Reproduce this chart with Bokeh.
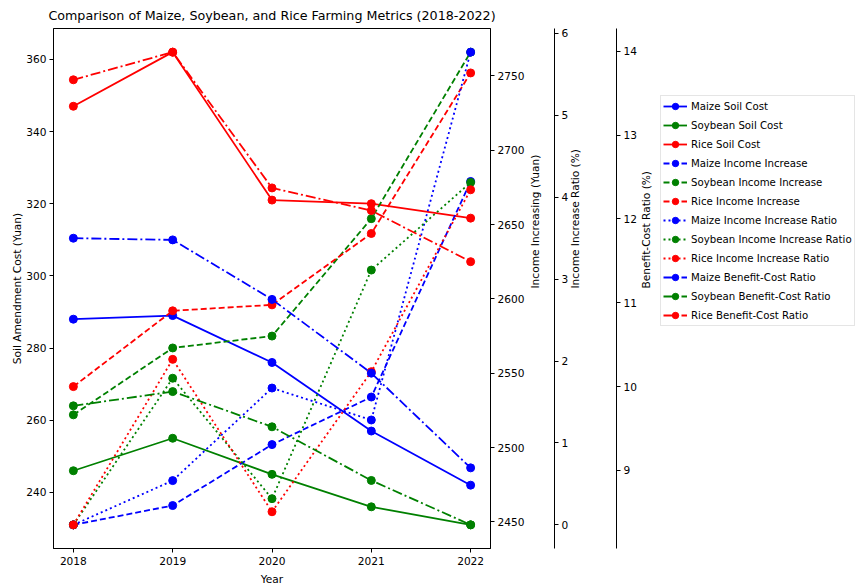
import math
from bokeh.plotting import figure
from bokeh.layouts import row
from bokeh.models import (Range1d, LinearAxis, SingleIntervalTicker, FixedTicker,
                          Legend, LegendItem)
from bokeh.embed import file_html
from bokeh.resources import INLINE

# ---------------- data ----------------
years = [2018, 2019, 2020, 2021, 2022]
crops = ["Maize", "Soybean", "Rice"]
colors = ["blue", "green", "red"]

maize_soil_cost = [288, 289, 276, 257, 242]
soybean_soil_cost = [246, 255, 245, 236, 231]
rice_soil_cost = [347, 362, 321, 320, 316]

maize_income_increase = [2448, 2461, 2502, 2534, 2679]
soybean_income_increase = [2522, 2567, 2575, 2654, 2766]
rice_income_increase = [2541, 2592, 2596, 2644, 2752]

maize_income_ratio = [0.0, 0.54, 1.67, 1.28, 5.77]
soybean_income_ratio = [0.0, 1.79, 0.32, 3.11, 4.18]
rice_income_ratio = [0.0, 2.02, 0.16, 1.87, 4.09]

maize_bcr = [11.77, 11.75, 11.04, 10.16, 9.03]
soybean_bcr = [9.77, 9.94, 9.52, 8.88, 8.35]
rice_bcr = [13.66, 13.99, 12.37, 12.10, 11.49]

FONT = "DejaVu Sans"
FS = "10.6px"


def padded(*series):
    vals = [v for s in series for v in s]
    lo, hi = min(vals), max(vals)
    m = (hi - lo) * 0.05
    return Range1d(lo - m, hi + m)


p = figure(width=660, height=587, output_backend="svg", toolbar_location=None,
           x_range=padded(years),
           y_range=padded(maize_soil_cost, soybean_soil_cost, rice_soil_cost),
           min_border_left=53, min_border_right=168, min_border_top=27,
           min_border_bottom=38)
p.extra_y_ranges = {
    "income": padded(maize_income_increase, soybean_income_increase, rice_income_increase),
    "ratio": padded(maize_income_ratio, soybean_income_ratio, rice_income_ratio),
    "bcr": padded(maize_bcr, soybean_bcr, rice_bcr),
}

p.title.text = "Comparison of Maize, Soybean, and Rice Farming Metrics (2018-2022)"
p.title.align = "center"
p.title.text_font = FONT
p.title.text_font_size = "12.7px"
p.title.text_font_style = "normal"
p.title.text_color = "black"
p.title.standoff = 11

p.xgrid.visible = False
p.ygrid.visible = False
p.outline_line_color = "black"
p.outline_line_width = 1
p.background_fill_color = "white"
p.border_fill_color = "white"


def style(ax):
    ax.axis_line_color = "black"
    ax.axis_line_width = 1
    ax.major_tick_line_color = "black"
    ax.major_tick_out = 4
    ax.major_tick_in = 0
    ax.minor_tick_line_color = None
    ax.major_label_text_font = FONT
    ax.major_label_text_font_size = FS
    ax.major_label_text_color = "black"
    ax.major_label_standoff = 3
    ax.axis_label_text_font = FONT
    ax.axis_label_text_font_size = FS
    ax.axis_label_text_font_style = "normal"
    ax.axis_label_text_color = "black"


style(p.xaxis[0])
p.xaxis[0].ticker = FixedTicker(ticks=years)
p.xaxis[0].axis_label = "Year"
p.xaxis[0].major_label_standoff = 4
p.xaxis[0].axis_label_standoff = 5

style(p.yaxis[0])
p.yaxis[0].ticker = SingleIntervalTicker(interval=20, num_minor_ticks=0)
p.yaxis[0].axis_label = "Soil Amendment Cost (Yuan)"
p.yaxis[0].axis_label_standoff = 0


def spacer(n, rng):
    return LinearAxis(y_range_name=rng, ticker=FixedTicker(ticks=[]),
                      axis_line_color=None, major_tick_line_color=None,
                      minor_tick_line_color=None, major_tick_out=0, major_tick_in=0,
                      major_label_standoff=0, axis_label=" ",
                      axis_label_text_font_size="1px", axis_label_standoff=n)


ax_income = LinearAxis(y_range_name="income", axis_label="Income Increasing (Yuan)",
                       ticker=SingleIntervalTicker(interval=50, num_minor_ticks=0))
style(ax_income)
ax_income.axis_label_standoff = 8
ax_income.axis_label_orientation = math.pi / 2
p.add_layout(ax_income, "right")
p.add_layout(spacer(0, "income"), "right")

ax_ratio = LinearAxis(y_range_name="ratio", axis_label="Income Increase Ratio (%)",
                      ticker=SingleIntervalTicker(interval=1, num_minor_ticks=0))
style(ax_ratio)
ax_ratio.axis_label_standoff = 4
ax_ratio.axis_label_orientation = math.pi / 2
p.add_layout(ax_ratio, "right")
p.add_layout(spacer(22, "ratio"), "right")

ax_bcr = LinearAxis(y_range_name="bcr", axis_label="Benefit-Cost Ratio (%)",
                    ticker=SingleIntervalTicker(interval=1, num_minor_ticks=0))
style(ax_bcr)
ax_bcr.axis_label_standoff = 6
ax_bcr.axis_label_orientation = math.pi / 2
p.add_layout(ax_bcr, "right")

metrics = [
    ("default", [maize_soil_cost, soybean_soil_cost, rice_soil_cost], "Soil Cost", "solid"),
    ("income", [maize_income_increase, soybean_income_increase, rice_income_increase],
     "Income Increase", "6 3"),
    ("ratio", [maize_income_ratio, soybean_income_ratio, rice_income_ratio],
     "Income Increase Ratio", "2 3"),
    ("bcr", [maize_bcr, soybean_bcr, rice_bcr], "Benefit-Cost Ratio", "10 3 2 3"),
]

# legend lives in a narrow companion figure to the right
lg = figure(width=198, height=587, output_backend="svg", toolbar_location=None,
            x_axis_type=None, y_axis_type=None, min_border=0,
            x_range=Range1d(0, 1), y_range=Range1d(0, 1))
lg.outline_line_color = None
lg.xgrid.visible = False
lg.ygrid.visible = False
lg.background_fill_color = "white"
lg.border_fill_color = "white"

items = []
for rng, series, suffix, dash in metrics:
    for crop, color, vals in zip(crops, colors, series):
        p.line(years, vals, y_range_name=rng, line_color=color, line_width=1.8,
               line_dash=dash)
        p.scatter(years, vals, y_range_name=rng, size=8, fill_color=color,
                  line_color=color, line_width=1)
        # off-range proxies that only feed the legend swatches
        ln = lg.line([0, 1], [5, 5], line_color=color, line_width=1.8, line_dash=dash)
        sc = lg.scatter([0.5], [5], size=8, fill_color=color, line_color=color,
                        line_width=1)
        items.append(LegendItem(label=f"{crop} {suffix}", renderers=[ln, sc]))

legend = Legend(items=items, location=(0, 222))
legend.label_text_font = FONT
legend.label_text_font_size = "10.2px"
legend.label_text_color = "black"
legend.glyph_width = 24
legend.glyph_height = 16
legend.label_height = 16
legend.label_standoff = 4
legend.spacing = 3
legend.padding = 2
legend.margin = 0
legend.border_line_color = "#cccccc"
legend.border_line_width = 1
legend.background_fill_color = "white"
legend.background_fill_alpha = 1
lg.add_layout(legend)

layout = row(p, lg, spacing=0)
open("out.html", "w").write(file_html(layout, INLINE))
